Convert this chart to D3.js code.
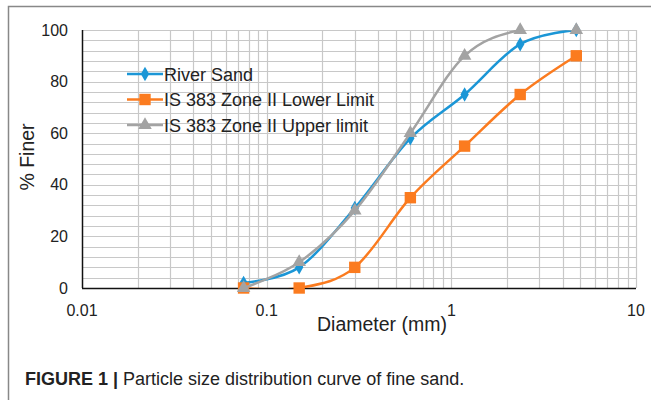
<!DOCTYPE html>
<html>
<head>
<meta charset="utf-8">
<script src="https://cdn.jsdelivr.net/npm/d3@7"></script>
<style>
  body { margin: 0; background: #fff; }
  svg { display: block; font-family: "Liberation Sans", Arial, sans-serif; }
</style>
</head>
<body>
<svg id="svg1" width="651" height="400"></svg>
<script>
// sieve sizes (mm)
var sizes = [0.075, 0.15, 0.3, 0.6, 1.18, 2.36, 4.75];
var riverSand = [2, 8, 31, 58, 75, 94.5, 100];
var lowerLimit = [0, 0, 8, 35, 55, 75, 90];
var upperLimit = [0, 10, 30, 60, 90, 100, 100];
var seriesNames = ['River Sand', 'IS 383 Zone II Lower Limit', 'IS 383 Zone II Upper limit'];
var xTicks = [0.01, 0.1, 1, 10];
var yTicks = [0, 20, 40, 60, 80, 100];

var svg = d3.select('svg');

// figure frame
svg.append('path')
    .attr('d', 'M651,6.5H8.5V400')
    .attr('fill', 'none')
    .attr('stroke', '#888')
    .attr('stroke-width', 1.5);

var x = d3.scaleLog().domain([0.01, 10]).range([82, 636]);
var y = d3.scaleLinear().domain([0, 100]).range([288, 30]);

var grid = svg.append('g');
// horizontal grid every 4
grid.selectAll('line.h')
    .data(d3.range(4, 101, 4))
    .enter().append('line')
    .attr('x1', 82).attr('x2', 636)
    .attr('y1', function(d) { return Math.round(y(d)) + 0.5; })
    .attr('y2', function(d) { return Math.round(y(d)) + 0.5; })
    .attr('stroke', '#c8c8c8').attr('stroke-width', 1.2);
// vertical grid (log minors)
var vx = [];
[0.01, 0.1, 1].forEach(function(b) {
    for (var k = 2; k <= 10; k++) vx.push(b * k);
});
grid.selectAll('line.v')
    .data(vx)
    .enter().append('line')
    .attr('y1', 30).attr('y2', 288)
    .attr('x1', function(d) { return Math.round(x(d)) + 0.5; })
    .attr('x2', function(d) { return Math.round(x(d)) + 0.5; })
    .attr('stroke', '#c8c8c8').attr('stroke-width', 1.2);

// axes lines
svg.append('line').attr('x1', 82.5).attr('x2', 82.5).attr('y1', 30).attr('y2', 288)
    .attr('stroke', '#111').attr('stroke-width', 1.5);
svg.append('line').attr('x1', 82).attr('x2', 636).attr('y1', 288.5).attr('y2', 288.5)
    .attr('stroke', '#111').attr('stroke-width', 1.5);

// tick labels
svg.selectAll('text.yt')
    .data(yTicks)
    .enter().append('text')
    .attr('x', 68)
    .attr('y', function(d) { return y(d) + 5.5; })
    .attr('text-anchor', 'end')
    .attr('font-size', 16)
    .attr('fill', '#222')
    .text(function(d) { return d; });
svg.selectAll('text.xt')
    .data(xTicks)
    .enter().append('text')
    .attr('x', function(d) { return x(d); })
    .attr('y', 316)
    .attr('text-anchor', 'middle')
    .attr('font-size', 16)
    .attr('fill', '#222')
    .text(function(d) { return d; });

// axis titles
svg.append('text')
    .attr('transform', 'translate(34,157) rotate(-90)')
    .attr('text-anchor', 'middle')
    .attr('font-size', 19.5)
    .attr('fill', '#222')
    .text('% Finer');
svg.append('text')
    .attr('x', 382).attr('y', 331)
    .attr('text-anchor', 'middle')
    .attr('font-size', 19.5)
    .attr('fill', '#222')
    .text('Diameter (mm)');

// clip to plot area
svg.append('clipPath').attr('id', 'clip')
    .append('rect').attr('x', 82).attr('y', 30).attr('width', 554).attr('height', 258);

var series = [
    { name: seriesNames[0], values: riverSand, color: '#1b96d6', marker: d3.symbolDiamond, size: 60 },
    { name: seriesNames[1], values: lowerLimit, color: '#fb7b1f', marker: d3.symbolSquare, size: 130 },
    { name: seriesNames[2], values: upperLimit, color: '#a3a3a3', marker: d3.symbolTriangle, size: 80 }
];

var line = d3.line()
    .x(function(d) { return x(d[0]); })
    .y(function(d) { return y(d[1]); })
    .curve(d3.curveCatmullRom.alpha(0));

series.forEach(function(s) {
    var pts = sizes.map(function(v, i) { return [v, s.values[i]]; });
    svg.append('path')
        .attr('d', line(pts))
        .attr('clip-path', 'url(#clip)')
        .attr('fill', 'none')
        .attr('stroke', s.color)
        .attr('stroke-width', 2.5);
    svg.selectAll(null)
        .data(pts)
        .enter().append('path')
        .attr('transform', function(d) { return 'translate(' + x(d[0]) + ',' + y(d[1]) + ')'; })
        .attr('d', d3.symbol().type(s.marker).size(s.size))
        .attr('fill', s.color);
});

// legend
var legend = svg.append('g');
series.forEach(function(s, i) {
    var ly = 74 + i * 25.5;
    legend.append('line')
        .attr('x1', 127).attr('x2', 163).attr('y1', ly).attr('y2', ly)
        .attr('stroke', s.color).attr('stroke-width', 2.5);
    legend.append('path')
        .attr('transform', 'translate(145,' + ly + ')')
        .attr('d', d3.symbol().type(s.marker).size(s.size))
        .attr('fill', s.color);
    legend.append('text')
        .attr('x', 164).attr('y', ly + 6.5)
        .attr('font-size', 18)
        .attr('fill', '#222')
        .text(s.name);
});

// caption
var cap = svg.append('text')
    .attr('x', 25).attr('y', 385)
    .attr('font-size', 18)
    .attr('fill', '#222');
cap.append('tspan').attr('font-weight', 'bold').text('FIGURE 1 | ');
cap.append('tspan').text('Particle size distribution curve of fine sand.');
</script>
</body>
</html>
